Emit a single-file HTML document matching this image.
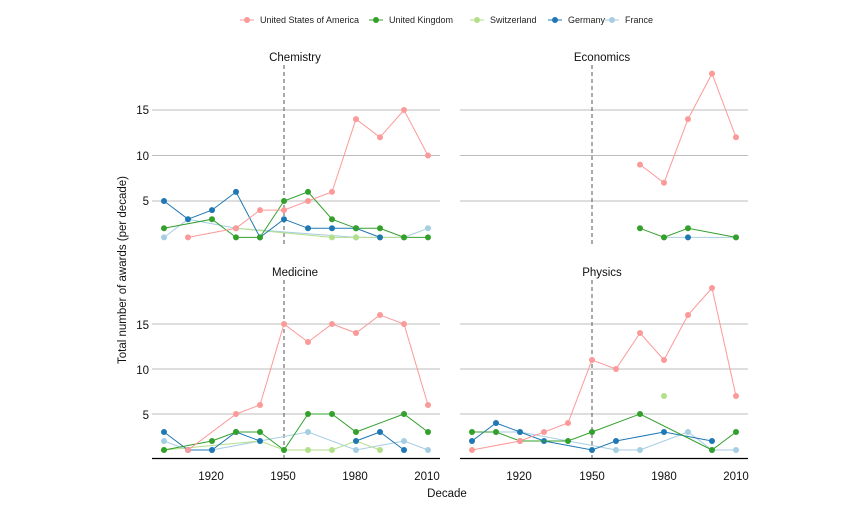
<!DOCTYPE html>
<html><head><meta charset="utf-8"><style>
body{margin:0;background:#fff}
svg{font-family:"Liberation Sans",sans-serif}
</style></head><body>
<svg id="s" width="864" height="504" xmlns="http://www.w3.org/2000/svg">
<rect width="864" height="504" fill="#fff"/>
<g font-size="9" fill="#222">
<circle cx="247" cy="20" r="3" fill="#fb9a99"/><line x1="240" x2="254" y1="20" y2="20" stroke="#fb9a99"/><text x="260" y="23">United States of America</text>
<circle cx="376" cy="20" r="3" fill="#33a02c"/><line x1="369" x2="383" y1="20" y2="20" stroke="#33a02c"/><text x="389" y="23">United Kingdom</text>
<circle cx="477" cy="20" r="3" fill="#b2df8a"/><line x1="470" x2="484" y1="20" y2="20" stroke="#b2df8a"/><text x="490" y="23">Switzerland</text>
<circle cx="555" cy="20" r="3" fill="#1f78b4"/><line x1="548" x2="562" y1="20" y2="20" stroke="#1f78b4"/><text x="568" y="23">Germany</text>
<circle cx="612" cy="20" r="3" fill="#a6cee3"/><line x1="605" x2="619" y1="20" y2="20" stroke="#a6cee3"/><text x="625" y="23">France</text>
</g>
<g font-size="11.5" fill="#111" text-anchor="middle">
<text x="295" y="61">Chemistry</text><text x="602" y="61">Economics</text>
<text x="295" y="276">Medicine</text><text x="602" y="276">Physics</text>
<text x="447" y="497">Decade</text>
<text transform="translate(126,270) rotate(-90)">Total number of awards (per decade)</text>
</g>
<g font-size="11.5" fill="#111" text-anchor="end">
<text x="149" y="114">15</text><text x="149" y="160">10</text><text x="149" y="205">5</text>
<text x="149" y="329">15</text><text x="149" y="374">10</text><text x="149" y="419">5</text>
</g>
<g font-size="11.5" fill="#111" text-anchor="middle">
<text x="211" y="480">1920</text><text x="283" y="480">1950</text><text x="355" y="480">1980</text><text x="427" y="480">2010</text>
<text x="519" y="480">1920</text><text x="592" y="480">1950</text><text x="664" y="480">1980</text><text x="736" y="480">2010</text>
</g>
<g id="plot"></g>
</svg>
<script>
var C={us:"#fb9a99",uk:"#33a02c",ch:"#b2df8a",de:"#1f78b4",fr:"#a6cee3"};
var P=[
{x0:164,top:true,d:{
fr:{1900:1,1910:3,1930:2,1980:1,2000:1,2010:2},
ch:{1930:2,1970:1,1980:1,1990:1,2000:1},
de:{1900:5,1910:3,1920:4,1930:6,1940:1,1950:3,1960:2,1970:2,1980:2,1990:1},
uk:{1900:2,1920:3,1930:1,1940:1,1950:5,1960:6,1970:3,1980:2,1990:2,2000:1,2010:1},
us:{1910:1,1930:2,1940:4,1950:4,1960:5,1970:6,1980:14,1990:12,2000:15,2010:10}}},
{x0:472,top:true,d:{
fr:{1980:1,2010:1},de:{1990:1},
uk:{1970:2,1980:1,1990:2,2010:1},
us:{1970:9,1980:7,1990:14,2000:19,2010:12}}},
{x0:164,top:false,d:{
fr:{1900:2,1910:1,1920:1,1960:3,1980:1,2000:2,2010:1},
ch:{1900:1,1940:2,1950:1,1960:1,1970:1,1980:2,1990:1},
de:{1900:3,1910:1,1920:1,1930:3,1940:2,1980:2,1990:3,2000:1},
uk:{1900:1,1920:2,1930:3,1940:3,1950:1,1960:5,1970:5,1980:3,2000:5,2010:3},
us:{1910:1,1930:5,1940:6,1950:15,1960:13,1970:15,1980:14,1990:16,2000:15,2010:6}}},
{x0:472,top:false,d:{
fr:{1910:3,1920:3,1960:1,1970:1,1990:3,2000:1,2010:1},
ch:{1980:7},
de:{1900:2,1910:4,1920:3,1930:2,1950:1,1960:2,1980:3,2000:2},
uk:{1900:3,1910:3,1920:2,1940:2,1950:3,1970:5,2000:1,2010:3},
us:{1900:1,1920:2,1930:3,1940:4,1950:11,1960:10,1970:14,1980:11,1990:16,2000:19,2010:7}}}
];
var g=document.getElementById("plot"),h="";
P.forEach(function(p,pi){
 var xl=p.x0-12,xr=p.x0+276;
 var Y=p.top?function(v){return 246.5-9.1*v}:function(v){return 459-9*v};
 [5,10,15].forEach(function(v){h+='<line x1="'+xl+'" x2="'+xr+'" y1="'+Y(v)+'" y2="'+Y(v)+'" stroke="#bdbdbd" stroke-width="1"/>';});
 if(!p.top)h+='<line x1="'+xl+'" x2="'+xr+'" y1="458.5" y2="458.5" stroke="#000" stroke-width="1.2"/>';
 var X=function(yr){return p.x0+(yr-1900)*2.4};
 h+='<line x1="'+X(1950)+'" x2="'+X(1950)+'" y1="'+(p.top?65:280)+'" y2="'+(p.top?245:458)+'" stroke="#555" stroke-dasharray="4,3"/>';
 ["fr","ch","de","uk","us"].forEach(function(k){
  var d=p.d[k];if(!d)return;var ks=Object.keys(d).map(Number).sort();
  var segs=[[]];
  ks.forEach(function(y,i){
   if(pi==2&&k=="de"&&y==1980)segs.push([]);
   segs[segs.length-1].push(y);
  });
  segs.forEach(function(s){
   if(s.length>1)h+='<polyline points="'+s.map(function(y){return X(y)+","+Y(d[y])}).join(" ")+'" fill="none" stroke="'+C[k]+'" stroke-width="1"/>';
  });
  ks.forEach(function(y){h+='<circle cx="'+X(y)+'" cy="'+Y(d[y])+'" r="3" fill="'+C[k]+'"/>';});
 });
});
g.innerHTML=h;
</script>
</body></html>
